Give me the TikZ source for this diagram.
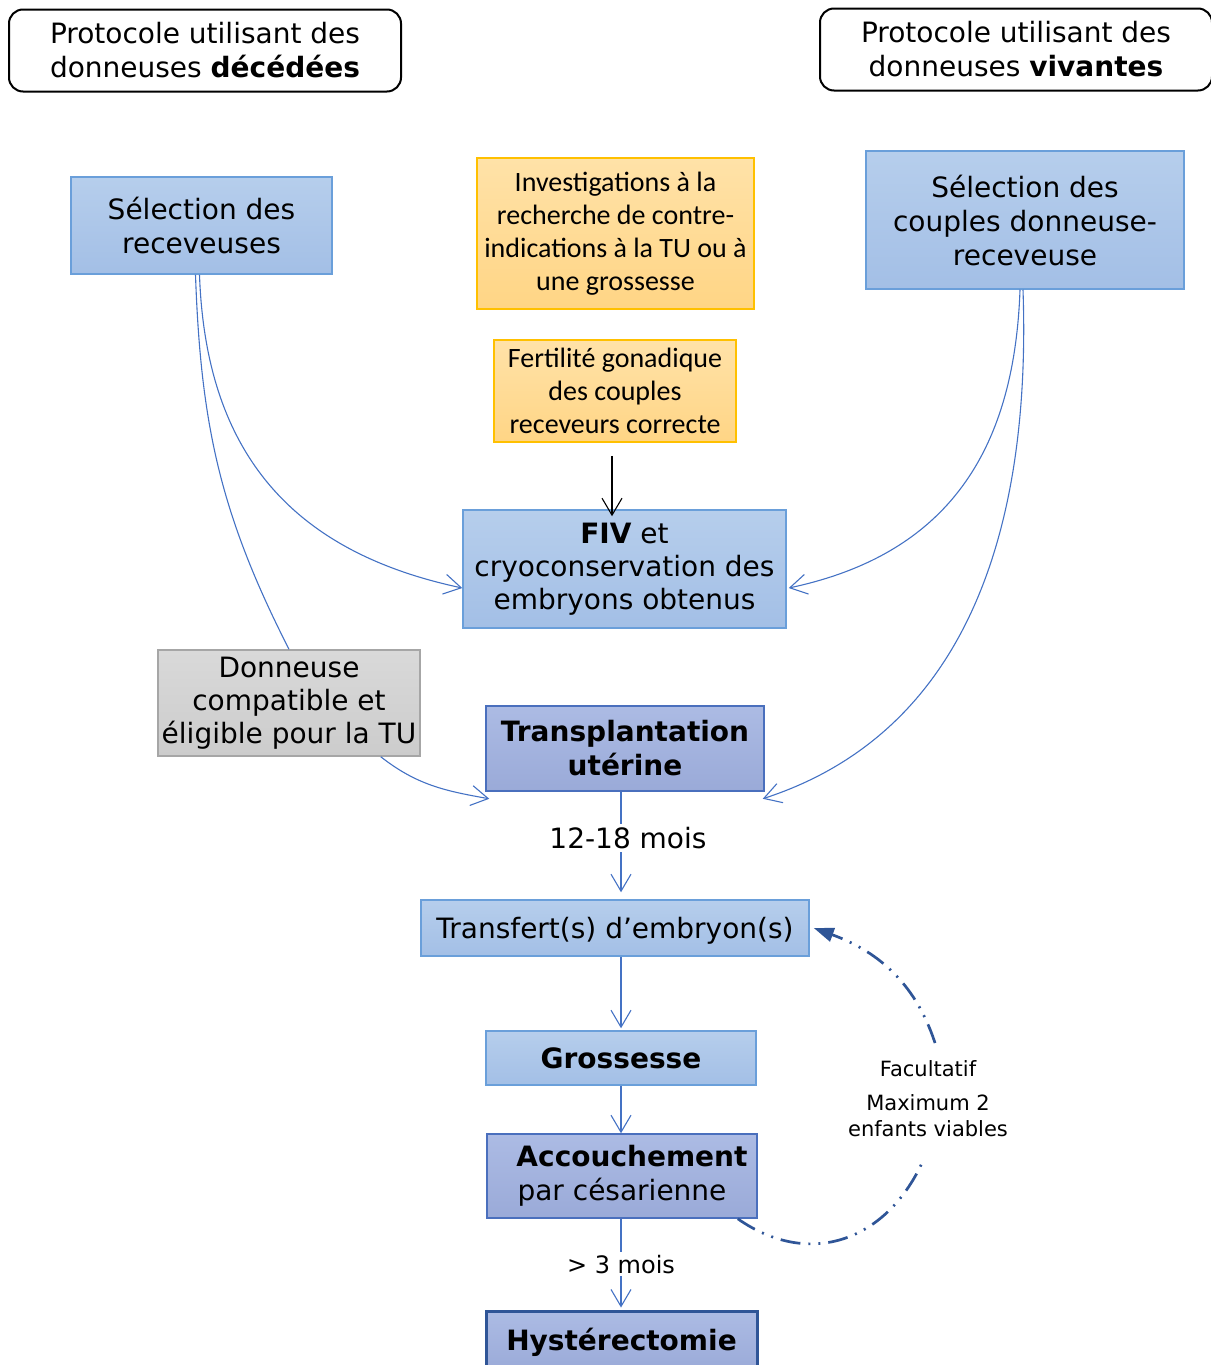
\documentclass[tikz,border=0pt]{standalone}
\usepackage{fontspec}
\setmainfont{DejaVu Sans}
\newfontfamily\calib{Carlito}
\usepackage{tikz}
\usetikzlibrary{arrows.meta}
\usetikzlibrary{calc}

\definecolor{bleuH}{HTML}{B6CEEC}
\definecolor{bleuB}{HTML}{A3BFE6}
\definecolor{bordBleu}{HTML}{6A9FDA}
\definecolor{orH}{HTML}{FFE2A8}
\definecolor{orB}{HTML}{FFD585}
\definecolor{bordOr}{HTML}{FFC000}
\definecolor{violH}{HTML}{ACBBE4}
\definecolor{violB}{HTML}{9AAAD8}
\definecolor{bordViol}{HTML}{4A6FBD}
\definecolor{grisH}{HTML}{D9D9D9}
\definecolor{grisB}{HTML}{CCCCCC}
\definecolor{lien}{HTML}{4472C4}
\definecolor{boucle}{HTML}{2F5597}

\begin{document}
\begin{tikzpicture}[x=1pt,y=-1pt,
    box/.style={rectangle,align=center,inner sep=0pt,
                font=\fontsize{28}{34}\selectfont},
    bleu/.style={box,draw=bordBleu,line width=1.5pt,top color=bleuH,bottom color=bleuB},
    viol/.style={box,draw=bordViol,line width=1.5pt,top color=violH,bottom color=violB},
    orange/.style={box,draw=bordOr,line width=1.5pt,top color=orH,bottom color=orB,
                   font=\calib\fontsize{28}{33}\selectfont},
    gris/.style={box,draw=black!35,line width=1.5pt,top color=grisH,bottom color=grisB}]

	\useasboundingbox (0,0) rectangle (1210,1365);

	% en-tetes
	\begin{scope}[every node/.style={box,draw=black,line width=2pt,
	              rounded corners=14pt,minimum width=392pt,minimum height=82pt}]
		\node (deced) at (205,50.5) {Protocole utilisant des\\donneuses \textbf{décédées}};
		\node (vivant) at (1016,49.5) {Protocole utilisant des\\donneuses \textbf{vivantes}};
	\end{scope}

	% etapes
	\node[bleu,minimum width=261pt,minimum height=97pt] (recv) at (201.5,225.5) {Sélection des\\receveuses};
	\node[orange,minimum width=277pt,minimum height=151pt] (invest) at (615.5,233.5)
		{Investigations à la\\recherche de contre-\\indications à la TU ou à\\une grossesse};
	\node[orange,minimum width=242pt,minimum height=102pt] (fert) at (615,391)
		{Fertilité gonadique\\des couples\\receveurs correcte};
	\node[bleu,minimum width=318pt,minimum height=138pt] (couples) at (1025,220)
		{Sélection des\\couples donneuse-\\receveuse};
	\node[bleu,minimum width=323pt,minimum height=118pt,font=\fontsize{28}{33}\selectfont] (fiv) at (624.5,569)
		{\textbf{FIV} et\\cryoconservation des\\embryons obtenus};
	\node[gris,minimum width=262pt,minimum height=106pt,font=\fontsize{28}{33}\selectfont] (donneuse) at (289,703)
		{Donneuse\\compatible et\\éligible pour la TU};
	\node[viol,minimum width=278pt,minimum height=85pt,font=\fontsize{28}{34}\selectfont\bfseries]
		(transp) at (625,748.5) {Transplantation\\utérine};
	\node[bleu,minimum width=388pt,minimum height=56pt,text depth=0pt] (transf) at (615,928) {Transfert(s) d’embryon(s)};
	\node[bleu,minimum width=270pt,minimum height=54pt,font=\fontsize{28}{34}\selectfont\bfseries]
		(gross) at (621,1058) {Grossesse};
	\node[viol,minimum width=270pt,minimum height=84pt] (accou) at (622,1176)
		{\hspace*{20pt}\textbf{Accouchement}\\par césarienne};
	\node[viol,draw=boucle,line width=3pt,minimum width=271pt,minimum height=62pt,
	      font=\fontsize{28}{34}\selectfont\bfseries] (hyst) at (621.5,1342) {Hystérectomie};

	\node[align=center,inner sep=0pt,font=\fontsize{21}{26}\selectfont] (facu) at (928,1099)
		{Facultatif\\[8pt]Maximum 2\\enfants viables};

	% liens
	\begin{scope}[>={Straight Barb[length=17pt,width=20pt]},
	              every node/.style={fill=white,inner sep=3pt,font=\fontsize{28}{34}\selectfont},
	              every edge/.style={draw=lien,line width=1.1pt}]
		\path ($(recv.south)+(-2,0)$) edge[->,out=-88,in=168,looseness=1.1] ($(fiv.west)+(0,19)$);
		\path ($(recv.south)+(-6,0)$) edge[out=-88,in=117] (donneuse.north);
		\path ($(donneuse.south east)+(-40,0)$) edge[->,out=-38,in=170] ($(transp.south west)+(4,7)$);
		\path ($(couples.south)+(-5,0)$) edge[->,out=-92,in=12,looseness=1.1] ($(fiv.east)+(2,19)$);
		\path ($(couples.south)+(-2,0)$) edge[->,out=-88,in=18] ($(transp.south east)+(-2,7)$);
		\path (fert.south -| 612,0) edge[->,draw=black,shorten <=13pt,shorten >=-7pt] (fiv.north -| 612,0);
		\path (transp.south -| gross) edge[->,shorten >=7pt] node[pos=0.43,xshift=7pt] {12-18 mois} (transf.north -| gross);
		\path (transf.south -| gross) edge[->,shorten >=2pt] (gross.north);
		\path (gross.south) edge[->] (accou.north -| gross);
		\path (accou.south -| gross) edge[->,shorten >=2pt] node[font=\fontsize{24}{29}\selectfont] {> 3 mois} (hyst.north -| gross);
	\end{scope}

	% boucle facultative
	\begin{scope}[boucle,line width=2.7pt,
	              dash pattern=on 20pt off 8pt on 2pt off 8pt on 2pt off 8pt]
		\draw ($(accou.south east)+(-20,0)$) to[out=-35,in=-115,looseness=1.15] ($(facu)+(-6,64)$);
		\draw[-{Triangle[length=20pt,width=14pt]}] ($(facu)+(7,-56)$) to[out=108,in=-20] ($(transf.east)+(4,0)$);
	\end{scope}
\end{tikzpicture}
\end{document}
